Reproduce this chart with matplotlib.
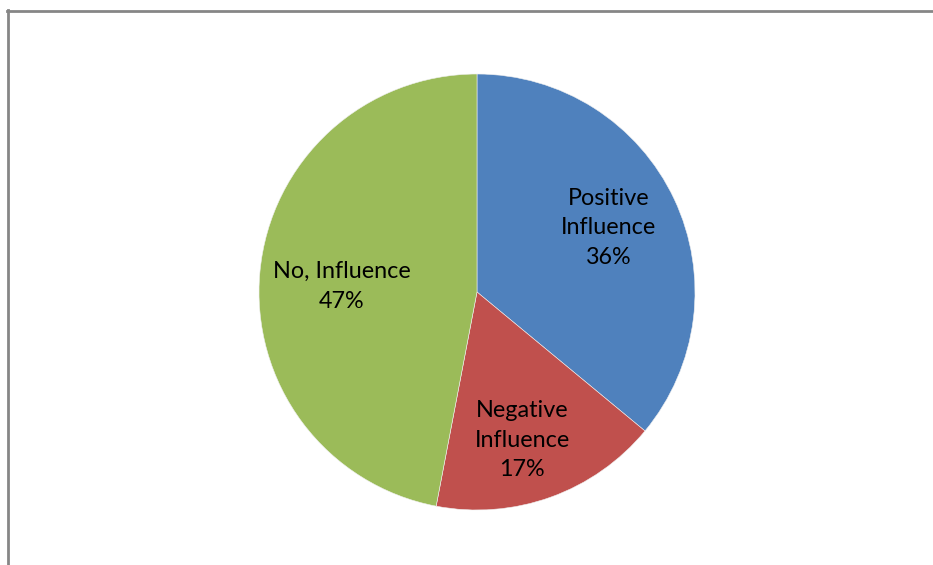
import matplotlib.pyplot as plt
from matplotlib.lines import Line2D
import numpy as np

categories = ['Positive\nInfluence', 'Negative\nInfluence', 'No, Influence']
shares = [36, 17, 47]
colors = ['#4F81BD', '#C0504D', '#9BBB59']
# label placement: fraction of radius, and small angle shift from wedge middle
label_dist = [0.67, 0.71, 0.62]
label_shift = [0.8, -2.8, 2.9]

W, H = 933, 565
fig = plt.figure(figsize=(W / 100, H / 100), dpi=100)
ax = fig.add_axes([0, 0, 1, 1])

cx, cy, r = 477, H - 292, 218
wedges, _ = ax.pie(shares, colors=colors, startangle=90, counterclock=False,
                   center=(cx, cy), radius=r, frame=True,
                   wedgeprops=dict(linewidth=0.4, edgecolor='#f0f0f0'))
ax.set_xlim(0, W)
ax.set_ylim(0, H)
ax.axis('off')

for w, cat, val, d, s in zip(wedges, categories, shares, label_dist, label_shift):
    ang = np.deg2rad((w.theta1 + w.theta2) / 2 + s)
    x = cx + d * r * np.cos(ang)
    y = cy + d * r * np.sin(ang)
    ax.text(x, y, f'{cat}\n{val}%', ha='center', va='center',
            fontsize=16.8, family='Lato', linespacing=1.52)

# chart area border (top and left only visible)
fig.add_artist(Line2D([7 / W, 1], [1 - 11 / H] * 2, color='#868686', lw=2,
                      transform=fig.transFigure))
fig.add_artist(Line2D([8 / W] * 2, [0, 1 - 10 / H], color='#868686', lw=2,
                      transform=fig.transFigure))

fig.savefig('out.png', dpi=100)
